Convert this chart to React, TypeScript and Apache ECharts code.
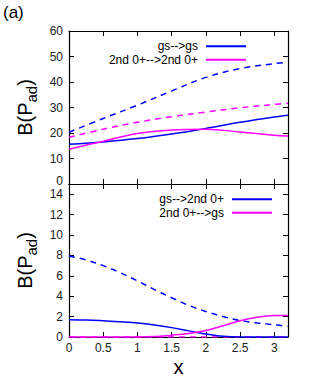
import { useEffect, useRef } from 'react';
import * as echarts from 'echarts';

// ---- data ----
const xTop = [0, 0.5, 1, 1.5, 2, 2.5, 3, 3.2];
const topGsGsSolid = [15.6, 16.5, 17.8, 19.6, 21.8, 24.2, 26.3, 27.0];
const topGsGsDashed = [20.3, 25.7, 30.9, 36.5, 41.8, 45.3, 47.2, 47.8];
const top2nd2ndSolid = [13.6, 16.8, 19.8, 21.2, 21.5, 20.4, 19.1, 18.8];
const top2nd2ndDashed = [18.3, 21.5, 24.2, 26.4, 28.2, 29.9, 31.2, 31.7];

const xBottom = [0, 0.25, 0.5, 0.75, 1, 1.25, 1.5, 1.75, 2, 2.25, 2.5, 2.75, 3, 3.2];
const botGs2ndSolid = [1.7, 1.66, 1.6, 1.5, 1.38, 1.18, 0.92, 0.6, 0.3, 0.08, 0.0, 0.0, 0.0, 0.0];
const botGs2ndDashed = [7.95, 7.55, 7.0, 6.3, 5.5, 4.65, 3.85, 3.1, 2.5, 2.0, 1.62, 1.38, 1.2, 1.05];
const bot2ndGsSolid = [0, 0, 0, 0, 0, 0.04, 0.18, 0.35, 0.63, 1.1, 1.6, 1.93, 2.1, 2.12];
const bot2ndGsDashed = [0, 0, 0, 0, 0, 0, 0, 0, 0, 0, 0, 0, 0, 0];

const topYTicks = { min: 0, max: 60, interval: 10 };
const botYTicks = { min: 0, max: 15, interval: 2 };
const xTicks = { min: 0, max: 3.2, interval: 0.5 };

const legendTop = ['gs-->gs', '2nd 0+-->2nd 0+'];
const legendBottom = ['gs-->2nd 0+', '2nd 0+-->gs'];

const BLUE = '#0000ff';
const MAGENTA = '#ff00ff';
const FONT = '"Liberation Sans", Arial, Helvetica, sans-serif';

const pairs = (xs: number[], ys: number[]) => xs.map((x, i) => [x, ys[i]]);

function axisBase(gridIndex: number, position: string, ticks: any, showLabels: boolean, labelMaxHide: number) {
  return {
    type: 'value',
    gridIndex,
    position,
    min: ticks.min,
    max: ticks.max,
    interval: ticks.interval,
    axisLine: { show: true, onZero: false, lineStyle: { color: '#000', width: 1.2 } },
    axisTick: { show: true, inside: true, length: 5, lineStyle: { color: '#000', width: 1 } },
    axisLabel: {
      show: showLabels,
      fontSize: 12,
      lineHeight: 10,
      fontFamily: FONT,
      color: '#222',
      margin: 6,
      formatter: (v: number) => (v > labelMaxHide ? '' : String(v)),
    },
    splitLine: { show: false },
  };
}

function lineSeries(name: string, data: number[][], color: string, dashed: boolean, xi: number, yi: number) {
  return {
    type: 'line',
    name,
    data,
    xAxisIndex: xi,
    yAxisIndex: yi,
    showSymbol: false,
    symbol: 'none',
    smooth: 0.35,
    color,
    itemStyle: { color },
    lineStyle: { color, width: 1.5, type: dashed ? [6, 5] : 'solid' },
    z: dashed ? 2 : 3,
  };
}

const yName = '{b|B(P}{s|ad}{b|)}';
const yNameStyle = {
  fontFamily: FONT,
  color: '#000',
  rich: {
    b: { fontSize: 20, fontFamily: FONT, color: '#000', lineHeight: 28 },
    s: { fontSize: 15, fontFamily: FONT, color: '#000', lineHeight: 14, verticalAlign: 'bottom' },
  },
};

function legendOf(data: string[], right: number, top: number) {
  return {
    data,
    orient: 'vertical',
    align: 'right',
    right,
    top,
    padding: 0,
    itemWidth: 40,
    itemHeight: 2,
    itemGap: 0,
    icon: 'rect',
    selectedMode: false,
    textStyle: { fontSize: 12, lineHeight: 13.5, fontFamily: FONT, color: '#000', padding: [0, 3, 0, 0] },
  };
}

export default function App() {
  const ref = useRef<HTMLDivElement>(null);
  useEffect(() => {
    const chart = echarts.init(ref.current!, null, { renderer: 'svg' });
    const topLeftY: any = axisBase(0, 'left', topYTicks, true, 60);
    topLeftY.axisLabel.formatter = (v: number) => (v === 0 ? '{z|0}' : String(v));
    topLeftY.axisLabel.rich = { z: { fontSize: 12, fontFamily: FONT, color: '#222', lineHeight: 10, padding: [0, 0, 6, 0] } };
    const option: any = {
      animation: false,
      backgroundColor: '#fff',
      grid: [
        { left: 69, top: 31, width: 219, height: 153 },
        { left: 69, top: 184, width: 219, height: 153 },
      ],
      xAxis: [
        axisBase(0, 'bottom', xTicks, false, 3.1),
        axisBase(0, 'top', xTicks, false, 3.1),
        {
          ...axisBase(1, 'bottom', xTicks, true, 3.1),
          name: 'x',
          nameLocation: 'middle',
          nameGap: 20,
          nameTextStyle: { fontSize: 20, fontFamily: FONT, color: '#000' },
        },
        axisBase(1, 'top', xTicks, false, 3.1),
      ],
      yAxis: [
        {
          ...topLeftY,
          name: yName,
          nameLocation: 'middle',
          nameGap: 28,
          nameRotate: 90,
          nameTextStyle: yNameStyle,
        },
        axisBase(0, 'right', topYTicks, false, 60),
        {
          ...axisBase(1, 'left', botYTicks, true, 14),
          name: yName,
          nameLocation: 'middle',
          nameGap: 28,
          nameRotate: 90,
          nameTextStyle: yNameStyle,
        },
        axisBase(1, 'right', botYTicks, false, 14),
      ],
      legend: [legendOf(legendTop, 67, 39.5), legendOf(legendBottom, 41, 192.5)],
      graphic: [
        {
          type: 'text',
          left: 3,
          top: 4,
          style: { text: '(a)', fontSize: 17, fontFamily: FONT, fill: '#000' },
        },
      ],
      series: [
        lineSeries('gs-->gs dashed', pairs(xTop, topGsGsDashed), BLUE, true, 0, 0),
        lineSeries('2nd 0+-->2nd 0+ dashed', pairs(xTop, top2nd2ndDashed), MAGENTA, true, 0, 0),
        lineSeries('gs-->gs', pairs(xTop, topGsGsSolid), BLUE, false, 0, 0),
        lineSeries('2nd 0+-->2nd 0+', pairs(xTop, top2nd2ndSolid), MAGENTA, false, 0, 0),
        lineSeries('gs-->2nd 0+ dashed', pairs(xBottom, botGs2ndDashed), BLUE, true, 2, 2),
        lineSeries('2nd 0+-->gs dashed', pairs(xBottom, bot2ndGsDashed), MAGENTA, true, 2, 2),
        lineSeries('gs-->2nd 0+', pairs(xBottom, botGs2ndSolid), BLUE, false, 2, 2),
        lineSeries('2nd 0+-->gs', pairs(xBottom, bot2ndGsSolid), MAGENTA, false, 2, 2),
      ],
    };
    chart.setOption(option);
    return () => chart.dispose();
  }, []);
  return <div ref={ref} style={{ position: 'absolute', left: 0, top: 0, width: 313, height: 382 }} />;
}
